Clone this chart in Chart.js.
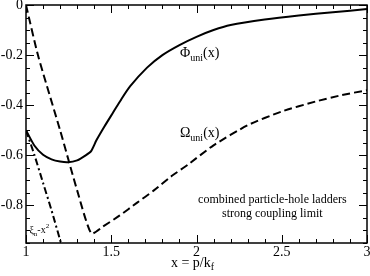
<!DOCTYPE html>
<html>
<head>
<meta charset="utf-8">
<script src="https://cdn.jsdelivr.net/npm/chart.js@4.4.1/dist/chart.umd.min.js"></script>
<style>
  html, body { margin: 0; padding: 0; background: #fff; }
</style>
</head>
<body>
<canvas id="grafico" width="370" height="276"></canvas>
<script>
// curves
const phiX = [1.0, 1.05, 1.1, 1.15, 1.2, 1.245, 1.3, 1.35, 1.383, 1.413, 1.46, 1.51, 1.56, 1.61, 1.71, 1.8, 1.9, 2.0, 2.1, 2.2, 2.4, 2.6, 2.8, 3.0];
const phiY = [-0.5, -0.562, -0.598, -0.616, -0.625, -0.628, -0.62, -0.6, -0.582, -0.54, -0.485, -0.43, -0.375, -0.325, -0.25, -0.2, -0.16, -0.127, -0.1, -0.08, -0.058, -0.042, -0.029, -0.016];

const omegaX = [1.0, 1.07, 1.2, 1.3, 1.383, 1.45, 1.55, 1.65, 1.75, 1.85, 1.95, 2.1, 2.3, 2.5, 2.7, 2.85, 3.0];
const omegaY = [0, -0.2, -0.5, -0.74, -0.912, -0.885, -0.84, -0.79, -0.74, -0.685, -0.637, -0.56, -0.48, -0.425, -0.385, -0.36, -0.34];

const xiX = [1.0, 1.05, 1.1, 1.15, 1.205];
const xiY = [-0.5, -0.6, -0.71, -0.82, -0.95];

const xTickLabels = ['1', '1.5', '2', '2.5', '3'];
const yTickLabels = ['0', '-0.2', '-0.4', '-0.6', '-0.8'];

const serif = 'Liberation Serif';

const pts = (xs, ys) => xs.map((x, i) => ({ x: x, y: ys[i] }));
// label text for a tick, or '' when the tick is a minor one
const xLabel = v => {
  const r = Math.round(v * 2) / 2;
  return Math.abs(v - r) < 1e-6 && xTickLabels.includes(String(r)) ? String(r) : '';
};
const yLabel = v => {
  const r = Math.round(v * 5) / 5;
  const s = String(Math.round(r * 10) / 10);
  return Math.abs(v - r) < 1e-6 && yTickLabels.includes(s) ? s : '';
};

// inward ticks on all four sides, frame, and text labels
const decor = {
  id: 'decor',
  afterDraw(chart) {
    const { ctx, chartArea: a, scales } = chart;
    const sx = scales.x, sy = scales.y;
    ctx.save();
    ctx.strokeStyle = '#000';
    ctx.lineWidth = 1;
    sx.ticks.forEach(t => {
      const p = Math.round(sx.getPixelForValue(t.value)) + 0.5;
      const len = xLabel(t.value) ? 8 : 4;
      ctx.beginPath();
      ctx.moveTo(p, a.bottom); ctx.lineTo(p, a.bottom - len);
      ctx.moveTo(p, a.top); ctx.lineTo(p, a.top + len);
      ctx.stroke();
    });
    sy.ticks.forEach(t => {
      const p = Math.round(sy.getPixelForValue(t.value)) + 0.5;
      const len = yLabel(t.value) ? 8 : 4;
      ctx.beginPath();
      ctx.moveTo(a.left, p); ctx.lineTo(a.left + len, p);
      ctx.moveTo(a.right, p); ctx.lineTo(a.right - len, p);
      ctx.stroke();
    });
    ctx.lineWidth = 1.5;
    ctx.strokeRect(a.left, a.top, a.right - a.left, a.bottom - a.top);

    ctx.fillStyle = '#000';
    ctx.textBaseline = 'alphabetic';

    // label with subscript
    function sub(x, y, main, s, tail, size) {
      ctx.textAlign = 'left';
      ctx.font = size + 'px "' + serif + '"';
      ctx.fillText(main, x, y);
      let w = ctx.measureText(main).width;
      ctx.font = Math.round(size * 0.7) + 'px "' + serif + '"';
      ctx.fillText(s, x + w, y + 4);
      w += ctx.measureText(s).width;
      ctx.font = size + 'px "' + serif + '"';
      ctx.fillText(tail, x + w, y);
    }

    sub(sx.getPixelForValue(1.903), sy.getPixelForValue(-0.208), 'Φ', 'uni', '(x)', 14);
    sub(sx.getPixelForValue(1.903), sy.getPixelForValue(-0.528), 'Ω', 'uni', '(x)', 14);

    // xi_n - x^2
    let x0 = sx.getPixelForValue(1.02), y0 = sy.getPixelForValue(-0.91);
    ctx.textAlign = 'left';
    ctx.font = '10px "' + serif + '"';
    ctx.fillText('ξ', x0, y0);
    let w = ctx.measureText('ξ').width;
    ctx.font = '7px "' + serif + '"';
    ctx.fillText('n', x0 + w, y0 + 3);
    w += ctx.measureText('n').width;
    ctx.font = '10px "' + serif + '"';
    ctx.fillText('-x', x0 + w, y0);
    w += ctx.measureText('-x').width;
    ctx.font = '7px "' + serif + '"';
    ctx.fillText('2', x0 + w, y0 - 5);

    ctx.textAlign = 'center';
    ctx.font = '12px "' + serif + '"';
    const cx = sx.getPixelForValue(2.445);
    ctx.fillText('combined particle-hole ladders', cx, sy.getPixelForValue(-0.792));
    ctx.fillText('strong coupling limit', cx, sy.getPixelForValue(-0.848));

    // axis title x = p/k_f
    const main = 'x = p/k';
    ctx.font = '14px "' + serif + '"';
    const mw = ctx.measureText(main).width;
    ctx.font = '10px "' + serif + '"';
    const fw = ctx.measureText('f').width;
    const tx = (a.left + a.right) / 2 - 4 - (mw + fw) / 2;
    ctx.textAlign = 'left';
    ctx.font = '14px "' + serif + '"';
    ctx.fillText(main, tx, 267);
    ctx.font = '10px "' + serif + '"';
    ctx.fillText('f', tx + mw, 270);
    ctx.restore();
  }
};

const ctx = document.getElementById('grafico').getContext('2d');

new Chart(ctx, {
  type: 'line',
  data: {
    datasets: [
      {
        label: 'Phi_uni',
        data: pts(phiX, phiY),
        borderColor: '#000',
        borderWidth: 2,
        pointRadius: 0,
        tension: 0.2
      },
      {
        label: 'Omega_uni',
        data: pts(omegaX, omegaY),
        borderColor: '#000',
        borderWidth: 2,
        borderDash: [8, 4],
        pointRadius: 0,
        tension: 0.2
      },
      {
        label: 'xi_n - x^2',
        data: pts(xiX, xiY),
        borderColor: '#000',
        borderWidth: 2,
        borderDash: [7, 3, 2, 3],
        pointRadius: 0,
        tension: 0.2
      }
    ]
  },
  options: {
    responsive: false,
    animation: false,
    devicePixelRatio: 1,
    layout: { padding: { left: 0, right: 3, top: 5, bottom: 0 } },
    plugins: {
      legend: { display: false },
      tooltip: { enabled: false }
    },
    scales: {
      x: {
        type: 'linear',
        min: 1,
        max: 3,
        grid: { display: false, drawTicks: false },
        border: { display: false },
        ticks: {
          stepSize: 0.1,
          autoSkip: false,
          maxRotation: 0,
          padding: 1,
          color: '#000',
          font: { family: serif, size: 14 },
          callback: v => xLabel(v)
        },
        afterFit: s => {
          s.height = 33;
          s.paddingLeft = 0; s.paddingRight = 0;
        }
      },
      y: {
        min: -0.95,
        max: 0,
        grid: { display: false, drawTicks: false },
        border: { display: false },
        ticks: {
          stepSize: 0.05,
          autoSkip: false,
          padding: 3,
          color: '#000',
          font: { family: serif, size: 14 },
          callback: v => yLabel(v)
        },
        afterFit: s => {
          s.width = 26;
          s.paddingTop = 0; s.paddingBottom = 0;
        }
      }
    }
  },
  plugins: [decor]
});
</script>
</body>
</html>
